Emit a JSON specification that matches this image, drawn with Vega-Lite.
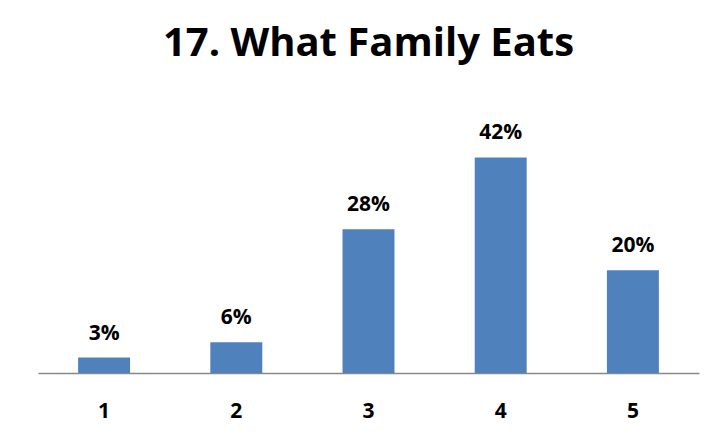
{
  "$schema": "https://vega.github.io/schema/vega-lite/v6.json",
  "width": 661,
  "height": 231,
  "autosize": {"type": "none"},
  "padding": {"left": 38, "top": 142, "right": 15, "bottom": 64},
  "background": "white",
  "config": {"view": {"stroke": null}},
  "title": {
    "text": "17. What Family Eats",
    "fontSize": 40,
    "font": "Open Sans",
    "fontWeight": "bold",
    "color": "black",
    "frame": "group",
    "anchor": "middle",
    "baseline": "alphabetic",
    "offset": 26
  },
  "data": {
    "values": [
      {"category": "1", "pct": 3, "label": "3%"},
      {"category": "2", "pct": 6, "label": "6%"},
      {"category": "3", "pct": 28, "label": "28%"},
      {"category": "4", "pct": 42, "label": "42%"},
      {"category": "5", "pct": 20, "label": "20%"}
    ]
  },
  "encoding": {
    "x": {
      "field": "category",
      "type": "ordinal",
      "scale": {"paddingInner": 0.607, "paddingOuter": 0.3035},
      "axis": {
        "title": null,
        "labelAngle": 0,
        "labelFont": "Open Sans",
        "labelFontWeight": "bold",
        "labelFontSize": 21,
        "labelColor": "black",
        "labelBaseline": "alphabetic",
        "ticks": false,
        "tickSize": 0,
        "labelPadding": 44,
        "domainColor": "#888888",
        "domainWidth": 1.5,
        "grid": false
      }
    },
    "y": {
      "field": "pct",
      "type": "quantitative",
      "scale": {"domain": [0, 45]},
      "axis": null
    }
  },
  "layer": [
    {"mark": {"type": "bar", "color": "#4F81BD"}},
    {
      "mark": {
        "type": "text",
        "font": "Open Sans",
        "fontWeight": "bold",
        "fontSize": 21,
        "color": "black",
        "baseline": "alphabetic",
        "dy": -18
      },
      "encoding": {"text": {"field": "label"}}
    }
  ]
}
